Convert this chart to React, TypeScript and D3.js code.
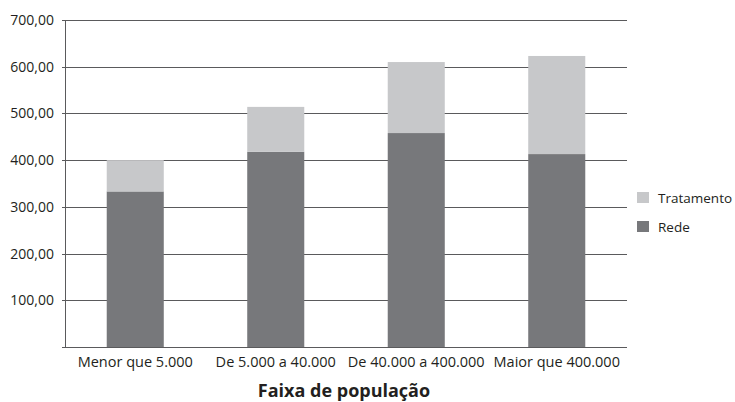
import React from "react";
import * as d3 from "d3";

const categories = ["Menor que 5.000", "De 5.000 a 40.000", "De 40.000 a 400.000", "Maior que 400.000"];
const rede = [333, 418, 458, 413];
const tratamento = [67, 96, 152, 210];
const seriesNames = ["Rede", "Tratamento"];
const yTicks = [0, 100, 200, 300, 400, 500, 600, 700];
const xTitle = "Faixa de população";

const colors: Record<string, string> = { Rede: "#77787b", Tratamento: "#c7c8ca" };

export default function App() {
  const W = 735, H = 402;
  const left = 65, right = 627, top = 20, bottom = 347;
  const x = d3.scaleBand<string>().domain(categories).range([left, right]).paddingInner(0.594).paddingOuter(0.297);
  const y = d3.scaleLinear().domain([0, 700]).range([bottom, top]);
  const rows = categories.map((c, i) => ({ cat: c, Rede: rede[i], Tratamento: tratamento[i] }));
  const stack = d3.stack<any>().keys(seriesNames)(rows);
  const fmt = (v: number) => d3.format(".2f")(v).replace(".", ",");
  const font = "'Open Sans', sans-serif";
  const textColor = "#231f20";
  return (
    <svg width={W} height={H} style={{ position: "absolute", left: 0, top: 0, display: "block", background: "#fff" }} fontFamily={font}>
      {yTicks.filter(t => t > 0).map(t => (
        <line key={t} x1={left - 3} x2={right} y1={Math.round(y(t)) + 0.5} y2={Math.round(y(t)) + 0.5} stroke="#5a5a5c" strokeWidth={1} />
      ))}
      {stack.map(s => s.map((d, i) => (
        <rect key={s.key + i} x={x(categories[i])!} width={x.bandwidth()} y={y(d[1])} height={y(d[0]) - y(d[1])} fill={colors[s.key]} />
      )))}
      <line x1={left + 0.5} x2={left + 0.5} y1={top} y2={bottom} stroke="#5a5a5c" />
      <line x1={left - 3} x2={right} y1={bottom + 0.5} y2={bottom + 0.5} stroke="#5a5a5c" />
      {yTicks.map(t => (
        <text key={t} x={54} y={y(t) + 5} textAnchor="end" fontSize={14} fill={textColor}>{t > 0 ? fmt(t) : ""}</text>
      ))}
      {categories.map(c => (
        <text key={c} x={x(c)! + x.bandwidth() / 2} y={367} textAnchor="middle" fontSize={14.5} fill={textColor}>{c}</text>
      ))}
      <text x={344} y={397} textAnchor="middle" fontSize={18} fontWeight="bold" fill={textColor}>{xTitle}</text>
      {["Tratamento", "Rede"].map((k, i) => (
        <g key={k} transform={`translate(637, ${192 + i * 29})`}>
          <rect width={12} height={11} fill={colors[k]} />
          <text x={21} y={10.5} fontSize={13.5} fill={textColor}>{k}</text>
        </g>
      ))}
    </svg>
  );
}
